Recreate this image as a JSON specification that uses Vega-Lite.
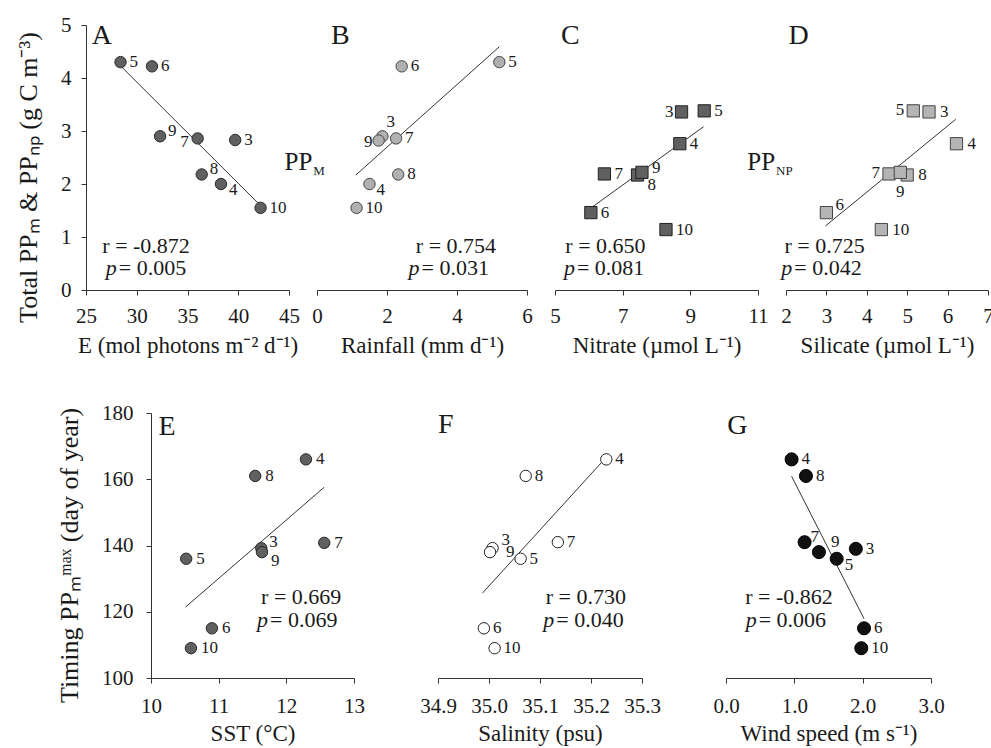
{
  "$schema": "https://vega.github.io/schema/vega-lite/v6.json",
  "background": "white",
  "padding": {"left": 15, "top": 14, "right": 5, "bottom": 2},
  "config": {
    "view": {"stroke": null},
    "font": "Liberation Serif",
    "axis": {"grid": false, "labelFont": "Liberation Serif", "labelFontSize": 21, "labelColor": "#1a1a1a", "titleFont": "Liberation Serif", "titleFontSize": 23, "titleFontWeight": "normal", "titleColor": "#1a1a1a", "domainColor": "#333333", "tickColor": "#333333", "tickSize": 5, "labelPadding": 10, "titlePadding": 8, "labelFlush": false, "labelOverlap": false},
    "text": {"font": "Liberation Serif", "color": "#1a1a1a", "fontSize": 17}
  },
  "datasets": {
    "pts": [
      {"panel": "A", "s": "3", "x": 39.7, "y": 2.83}, {"panel": "A", "s": "4", "x": 38.3, "y": 2.0}, {"panel": "A", "s": "5", "x": 28.4, "y": 4.3}, {"panel": "A", "s": "6", "x": 31.5, "y": 4.22}, {"panel": "A", "s": "7", "x": 36.0, "y": 2.86}, {"panel": "A", "s": "8", "x": 36.4, "y": 2.18}, {"panel": "A", "s": "9", "x": 32.3, "y": 2.9}, {"panel": "A", "s": "10", "x": 42.2, "y": 1.55},
      {"panel": "B", "s": "3", "x": 1.87, "y": 2.9}, {"panel": "B", "s": "4", "x": 1.5, "y": 2.0}, {"panel": "B", "s": "5", "x": 5.21, "y": 4.3}, {"panel": "B", "s": "6", "x": 2.42, "y": 4.22}, {"panel": "B", "s": "7", "x": 2.26, "y": 2.86}, {"panel": "B", "s": "8", "x": 2.32, "y": 2.18}, {"panel": "B", "s": "9", "x": 1.76, "y": 2.82}, {"panel": "B", "s": "10", "x": 1.13, "y": 1.55},
      {"panel": "C", "s": "3", "x": 8.74, "y": 3.36}, {"panel": "C", "s": "4", "x": 8.69, "y": 2.76}, {"panel": "C", "s": "5", "x": 9.41, "y": 3.38}, {"panel": "C", "s": "6", "x": 6.06, "y": 1.46}, {"panel": "C", "s": "7", "x": 6.46, "y": 2.19}, {"panel": "C", "s": "8", "x": 7.44, "y": 2.17}, {"panel": "C", "s": "9", "x": 7.57, "y": 2.22}, {"panel": "C", "s": "10", "x": 8.28, "y": 1.14},
      {"panel": "D", "s": "3", "x": 5.54, "y": 3.36}, {"panel": "D", "s": "4", "x": 6.22, "y": 2.76}, {"panel": "D", "s": "5", "x": 5.15, "y": 3.38}, {"panel": "D", "s": "6", "x": 3.0, "y": 1.46}, {"panel": "D", "s": "7", "x": 4.55, "y": 2.19}, {"panel": "D", "s": "8", "x": 5.0, "y": 2.17}, {"panel": "D", "s": "9", "x": 4.83, "y": 2.22}, {"panel": "D", "s": "10", "x": 4.36, "y": 1.14},
      {"panel": "E", "s": "3", "x": 11.63, "y": 139.2}, {"panel": "E", "s": "4", "x": 12.29, "y": 166}, {"panel": "E", "s": "5", "x": 10.52, "y": 136}, {"panel": "E", "s": "6", "x": 10.9, "y": 115}, {"panel": "E", "s": "7", "x": 12.56, "y": 140.8}, {"panel": "E", "s": "8", "x": 11.54, "y": 161}, {"panel": "E", "s": "9", "x": 11.64, "y": 138}, {"panel": "E", "s": "10", "x": 10.59, "y": 109},
      {"panel": "F", "s": "3", "x": 35.007, "y": 139.2}, {"panel": "F", "s": "4", "x": 35.23, "y": 166}, {"panel": "F", "s": "5", "x": 35.062, "y": 136}, {"panel": "F", "s": "6", "x": 34.99, "y": 115}, {"panel": "F", "s": "7", "x": 35.135, "y": 141}, {"panel": "F", "s": "8", "x": 35.072, "y": 161}, {"panel": "F", "s": "9", "x": 35.002, "y": 138}, {"panel": "F", "s": "10", "x": 35.011, "y": 109},
      {"panel": "G", "s": "3", "x": 1.9, "y": 139}, {"panel": "G", "s": "4", "x": 0.96, "y": 166}, {"panel": "G", "s": "5", "x": 1.62, "y": 136}, {"panel": "G", "s": "6", "x": 2.02, "y": 115}, {"panel": "G", "s": "7", "x": 1.15, "y": 141}, {"panel": "G", "s": "8", "x": 1.17, "y": 161}, {"panel": "G", "s": "9", "x": 1.36, "y": 138}, {"panel": "G", "s": "10", "x": 1.98, "y": 109}
    ],
    "fits": [
      {"panel": "A", "x": 28.4, "y": 4.23}, {"panel": "A", "x": 41.95, "y": 1.64},
      {"panel": "B", "x": 1.11, "y": 2.17}, {"panel": "B", "x": 5.21, "y": 4.59},
      {"panel": "C", "x": 6.11, "y": 1.57}, {"panel": "C", "x": 9.39, "y": 3.08},
      {"panel": "D", "x": 2.98, "y": 1.21}, {"panel": "D", "x": 6.2, "y": 3.22},
      {"panel": "E", "x": 10.51, "y": 121.4}, {"panel": "E", "x": 12.56, "y": 157.6},
      {"panel": "F", "x": 34.987, "y": 125.6}, {"panel": "F", "x": 35.228, "y": 166.3},
      {"panel": "G", "x": 0.96, "y": 160.9}, {"panel": "G", "x": 2.02, "y": 117.9}
    ],
    "notes": [
      {"panel": "A", "kind": "letter", "x": 25.56, "y": 4.79, "t": "A"},
      {"panel": "B", "kind": "letter", "x": 0.4, "y": 4.79, "t": "B"},
      {"panel": "C", "kind": "letter", "x": 5.18, "y": 4.79, "t": "C"},
      {"panel": "D", "kind": "letter", "x": 2.06, "y": 4.79, "t": "D"},
      {"panel": "E", "kind": "letter", "x": 10.11, "y": 175.8, "t": "E"},
      {"panel": "F", "kind": "letter", "x": 34.9, "y": 176.5, "t": "F"},
      {"panel": "G", "kind": "letter", "x": 0.02, "y": 176.2, "t": "G"},
      {"panel": "A", "kind": "big", "x": 47.3, "y": 2.42, "t": "PP"},
      {"panel": "A", "kind": "sub", "x": 47.3, "y": 2.42, "t": "M"},
      {"panel": "D", "kind": "big", "x": 1.73, "y": 2.42, "t": "PP"},
      {"panel": "D", "kind": "sub", "x": 1.73, "y": 2.42, "t": "NP"}
    ],
    "stats": [
      {"panel": "A", "kind": "r", "x": 30.92, "y": 0.83, "t": "r = -0.872"}, {"panel": "A", "kind": "p", "x": 28.03, "y": 0.41, "t": "= 0.005"},
      {"panel": "B", "kind": "r", "x": 3.97, "y": 0.83, "t": "r = 0.754"}, {"panel": "B", "kind": "p", "x": 2.93, "y": 0.41, "t": "= 0.031"},
      {"panel": "C", "kind": "r", "x": 6.49, "y": 0.83, "t": "r = 0.650"}, {"panel": "C", "kind": "p", "x": 5.59, "y": 0.41, "t": "= 0.081"},
      {"panel": "D", "kind": "r", "x": 2.955, "y": 0.83, "t": "r = 0.725"}, {"panel": "D", "kind": "p", "x": 2.157, "y": 0.41, "t": "= 0.042"},
      {"panel": "E", "kind": "r", "x": 12.22, "y": 124.4, "t": "r = 0.669"}, {"panel": "E", "kind": "p", "x": 11.73, "y": 117.6, "t": "= 0.069"},
      {"panel": "F", "kind": "r", "x": 35.19, "y": 124.4, "t": "r = 0.730"}, {"panel": "F", "kind": "p", "x": 35.128, "y": 117.6, "t": "= 0.040"},
      {"panel": "G", "kind": "r", "x": 0.922, "y": 124.4, "t": "r = -0.862"}, {"panel": "G", "kind": "p", "x": 0.449, "y": 117.6, "t": "= 0.006"}
    ]
  },
  "spacing": 45,
  "vconcat": [
    {
      "spacing": 28,
      "bounds": "flush",
      "hconcat": [
        {
          "width": 203, "height": 265,
          "data": {"name": "pts"},
          "transform": [{"filter": "datum.panel == 'A'"}],
          "encoding": {
            "x": {"field": "x", "type": "quantitative", "scale": {"domain": [25, 45], "nice": false, "zero": false}, "axis": {"values": [25, 30, 35, 40, 45], "title": "E (mol photons m⁻² d⁻¹)"}},
            "y": {"field": "y", "type": "quantitative", "scale": {"domain": [0, 5], "nice": false, "zero": false}, "axis": {"values": [0, 1, 2, 3, 4, 5], "title": "Total PPₘ & PPₙₚ (g C m⁻³)", "titleFontSize": 26, "titlePadding": 19, "labelPadding": 10, "titleY": 152}}
          },
          "layer": [
            {"data": {"name": "fits"}, "transform": [{"filter": "datum.panel == 'A'"}], "mark": {"type": "line", "color": "#333333", "strokeWidth": 1}},
            {"mark": {"type": "circle", "size": 130, "fill": "#606060", "stroke": "#2a2a2a", "strokeWidth": 1, "opacity": 1}},
            {"transform": [{"filter": "indexof(['7','9','8','4'], datum.s) < 0"}], "mark": {"type": "text", "align": "left", "dx": 9}, "encoding": {"text": {"field": "s"}}},
            {"transform": [{"filter": "indexof(['7'], datum.s) >= 0"}], "mark": {"type": "text", "align": "right", "dx": -9, "dy": 4}, "encoding": {"text": {"field": "s"}}},
            {"transform": [{"filter": "indexof(['9','8'], datum.s) >= 0"}], "mark": {"type": "text", "align": "left", "dx": 8, "dy": -5}, "encoding": {"text": {"field": "s"}}},
            {"transform": [{"filter": "indexof(['4'], datum.s) >= 0"}], "mark": {"type": "text", "align": "left", "dx": 8, "dy": 6}, "encoding": {"text": {"field": "s"}}},
            {"data": {"name": "notes"}, "transform": [{"filter": "datum.panel == 'A' && datum.kind == 'letter'"}], "mark": {"type": "text", "align": "left", "fontSize": 28}, "encoding": {"text": {"field": "t"}}},
            {"data": {"name": "notes"}, "transform": [{"filter": "datum.panel == 'A' && datum.kind == 'big'"}], "mark": {"type": "text", "align": "right", "fontSize": 25}, "encoding": {"text": {"field": "t"}}},
            {"data": {"name": "notes"}, "transform": [{"filter": "datum.panel == 'A' && datum.kind == 'sub'"}], "mark": {"type": "text", "align": "left", "fontSize": 13, "dx": 1, "dy": 9}, "encoding": {"text": {"field": "t"}}},
            {"data": {"name": "stats"}, "transform": [{"filter": "datum.panel == 'A' && datum.kind == 'r'"}], "mark": {"type": "text", "align": "center", "fontSize": 22}, "encoding": {"text": {"field": "t"}}},
            {"data": {"name": "stats"}, "transform": [{"filter": "datum.panel == 'A' && datum.kind == 'p'"}], "mark": {"type": "text", "align": "right", "fontSize": 22, "fontStyle": "italic"}, "encoding": {"text": {"value": "p"}}},
            {"data": {"name": "stats"}, "transform": [{"filter": "datum.panel == 'A' && datum.kind == 'p'"}], "mark": {"type": "text", "align": "left", "fontSize": 22, "dx": 2}, "encoding": {"text": {"field": "t"}}}
          ]
        },
        {
          "width": 210, "height": 265,
          "data": {"name": "pts"},
          "transform": [{"filter": "datum.panel == 'B'"}],
          "encoding": {
            "x": {"field": "x", "type": "quantitative", "scale": {"domain": [0, 6], "nice": false, "zero": false}, "axis": {"values": [0, 2, 4, 6], "title": "Rainfall (mm d⁻¹)"}},
            "y": {"field": "y", "type": "quantitative", "scale": {"domain": [0, 5], "nice": false, "zero": false}, "axis": null}
          },
          "layer": [
            {"data": {"name": "fits"}, "transform": [{"filter": "datum.panel == 'B'"}], "mark": {"type": "line", "color": "#333333", "strokeWidth": 1}},
            {"mark": {"type": "circle", "size": 130, "fill": "#b0b0b0", "stroke": "#444444", "strokeWidth": 1, "opacity": 1}},
            {"transform": [{"filter": "indexof(['9','3','4'], datum.s) < 0"}], "mark": {"type": "text", "align": "left", "dx": 9}, "encoding": {"text": {"field": "s"}}},
            {"transform": [{"filter": "indexof(['9'], datum.s) >= 0"}], "mark": {"type": "text", "align": "right", "dx": -6, "dy": 1}, "encoding": {"text": {"field": "s"}}},
            {"transform": [{"filter": "indexof(['3'], datum.s) >= 0"}], "mark": {"type": "text", "align": "left", "dx": 4, "dy": -14}, "encoding": {"text": {"field": "s"}}},
            {"transform": [{"filter": "indexof(['4'], datum.s) >= 0"}], "mark": {"type": "text", "align": "left", "dx": 7, "dy": 6}, "encoding": {"text": {"field": "s"}}},
            {"data": {"name": "notes"}, "transform": [{"filter": "datum.panel == 'B' && datum.kind == 'letter'"}], "mark": {"type": "text", "align": "left", "fontSize": 28}, "encoding": {"text": {"field": "t"}}},
            {"data": {"name": "stats"}, "transform": [{"filter": "datum.panel == 'B' && datum.kind == 'r'"}], "mark": {"type": "text", "align": "center", "fontSize": 22}, "encoding": {"text": {"field": "t"}}},
            {"data": {"name": "stats"}, "transform": [{"filter": "datum.panel == 'B' && datum.kind == 'p'"}], "mark": {"type": "text", "align": "right", "fontSize": 22, "fontStyle": "italic"}, "encoding": {"text": {"value": "p"}}},
            {"data": {"name": "stats"}, "transform": [{"filter": "datum.panel == 'B' && datum.kind == 'p'"}], "mark": {"type": "text", "align": "left", "fontSize": 22, "dx": 2}, "encoding": {"text": {"field": "t"}}}
          ]
        },
        {
          "width": 203, "height": 265,
          "data": {"name": "pts"},
          "transform": [{"filter": "datum.panel == 'C'"}],
          "encoding": {
            "x": {"field": "x", "type": "quantitative", "scale": {"domain": [5, 11], "nice": false, "zero": false}, "axis": {"values": [5, 7, 9, 11], "title": "Nitrate (µmol L⁻¹)"}},
            "y": {"field": "y", "type": "quantitative", "scale": {"domain": [0, 5], "nice": false, "zero": false}, "axis": null}
          },
          "layer": [
            {"data": {"name": "fits"}, "transform": [{"filter": "datum.panel == 'C'"}], "mark": {"type": "line", "color": "#333333", "strokeWidth": 1}},
            {"mark": {"type": "square", "size": 150, "fill": "#606060", "stroke": "#222222", "strokeWidth": 1, "opacity": 1}},
            {"transform": [{"filter": "indexof(['3','9','8'], datum.s) < 0"}], "mark": {"type": "text", "align": "left", "dx": 10}, "encoding": {"text": {"field": "s"}}},
            {"transform": [{"filter": "indexof(['3'], datum.s) >= 0"}], "mark": {"type": "text", "align": "right", "dx": -8}, "encoding": {"text": {"field": "s"}}},
            {"transform": [{"filter": "indexof(['9'], datum.s) >= 0"}], "mark": {"type": "text", "align": "left", "dx": 10, "dy": -4}, "encoding": {"text": {"field": "s"}}},
            {"transform": [{"filter": "indexof(['8'], datum.s) >= 0"}], "mark": {"type": "text", "align": "left", "dx": 10, "dy": 10}, "encoding": {"text": {"field": "s"}}},
            {"data": {"name": "notes"}, "transform": [{"filter": "datum.panel == 'C' && datum.kind == 'letter'"}], "mark": {"type": "text", "align": "left", "fontSize": 28}, "encoding": {"text": {"field": "t"}}},
            {"data": {"name": "stats"}, "transform": [{"filter": "datum.panel == 'C' && datum.kind == 'r'"}], "mark": {"type": "text", "align": "center", "fontSize": 22}, "encoding": {"text": {"field": "t"}}},
            {"data": {"name": "stats"}, "transform": [{"filter": "datum.panel == 'C' && datum.kind == 'p'"}], "mark": {"type": "text", "align": "right", "fontSize": 22, "fontStyle": "italic"}, "encoding": {"text": {"value": "p"}}},
            {"data": {"name": "stats"}, "transform": [{"filter": "datum.panel == 'C' && datum.kind == 'p'"}], "mark": {"type": "text", "align": "left", "fontSize": 22, "dx": 2}, "encoding": {"text": {"field": "t"}}}
          ]
        },
        {
          "width": 202, "height": 265,
          "data": {"name": "pts"},
          "transform": [{"filter": "datum.panel == 'D'"}],
          "encoding": {
            "x": {"field": "x", "type": "quantitative", "scale": {"domain": [2, 7], "nice": false, "zero": false}, "axis": {"values": [2, 3, 4, 5, 6, 7], "title": "Silicate (µmol L⁻¹)"}},
            "y": {"field": "y", "type": "quantitative", "scale": {"domain": [0, 5], "nice": false, "zero": false}, "axis": null}
          },
          "layer": [
            {"data": {"name": "fits"}, "transform": [{"filter": "datum.panel == 'D'"}], "mark": {"type": "line", "color": "#333333", "strokeWidth": 1}},
            {"mark": {"type": "square", "size": 150, "fill": "#b4b4b4", "stroke": "#444444", "strokeWidth": 1, "opacity": 1}},
            {"transform": [{"filter": "indexof(['5','7','9','6'], datum.s) < 0"}], "mark": {"type": "text", "align": "left", "dx": 11}, "encoding": {"text": {"field": "s"}}},
            {"transform": [{"filter": "indexof(['5','7'], datum.s) >= 0"}], "mark": {"type": "text", "align": "right", "dx": -9, "dy": -1}, "encoding": {"text": {"field": "s"}}},
            {"transform": [{"filter": "indexof(['9'], datum.s) >= 0"}], "mark": {"type": "text", "align": "center", "dy": 20}, "encoding": {"text": {"field": "s"}}},
            {"transform": [{"filter": "indexof(['6'], datum.s) >= 0"}], "mark": {"type": "text", "align": "left", "dx": 9, "dy": -8}, "encoding": {"text": {"field": "s"}}},
            {"data": {"name": "notes"}, "transform": [{"filter": "datum.panel == 'D' && datum.kind == 'letter'"}], "mark": {"type": "text", "align": "left", "fontSize": 28}, "encoding": {"text": {"field": "t"}}},
            {"data": {"name": "notes"}, "transform": [{"filter": "datum.panel == 'D' && datum.kind == 'big'"}], "mark": {"type": "text", "align": "right", "fontSize": 25}, "encoding": {"text": {"field": "t"}}},
            {"data": {"name": "notes"}, "transform": [{"filter": "datum.panel == 'D' && datum.kind == 'sub'"}], "mark": {"type": "text", "align": "left", "fontSize": 13, "dx": 1, "dy": 9}, "encoding": {"text": {"field": "t"}}},
            {"data": {"name": "stats"}, "transform": [{"filter": "datum.panel == 'D' && datum.kind == 'r'"}], "mark": {"type": "text", "align": "center", "fontSize": 22}, "encoding": {"text": {"field": "t"}}},
            {"data": {"name": "stats"}, "transform": [{"filter": "datum.panel == 'D' && datum.kind == 'p'"}], "mark": {"type": "text", "align": "right", "fontSize": 22, "fontStyle": "italic"}, "encoding": {"text": {"value": "p"}}},
            {"data": {"name": "stats"}, "transform": [{"filter": "datum.panel == 'D' && datum.kind == 'p'"}], "mark": {"type": "text", "align": "left", "fontSize": 22, "dx": 2}, "encoding": {"text": {"field": "t"}}}
          ]
        }
      ]
    },
    {
      "spacing": 0,
      "bounds": "flush",
      "hconcat": [
        {"width": 65, "height": 265, "data": {"values": [{"v": 1}]}, "mark": {"type": "point", "opacity": 0}, "encoding": {}},
        {
          "spacing": 84,
          "bounds": "flush",
          "hconcat": [
            {
              "width": 203, "height": 265,
              "data": {"name": "pts"},
              "transform": [{"filter": "datum.panel == 'E'"}],
              "encoding": {
                "x": {"field": "x", "type": "quantitative", "scale": {"domain": [10, 13], "nice": false, "zero": false}, "axis": {"values": [10, 11, 12, 13], "title": "SST (°C)", "labelPadding": 12, "titlePadding": 6}},
                "y": {"field": "y", "type": "quantitative", "scale": {"domain": [100, 180], "nice": false, "zero": false}, "axis": {"values": [100, 120, 140, 160, 180], "title": "Timing PPₘᵐᵃˣ (day of year)", "titleFontSize": 26, "titlePadding": 19, "labelPadding": 13, "titleY": 142}}
              },
              "layer": [
                {"data": {"name": "fits"}, "transform": [{"filter": "datum.panel == 'E'"}], "mark": {"type": "line", "color": "#333333", "strokeWidth": 1}},
                {"mark": {"type": "circle", "size": 130, "fill": "#606060", "stroke": "#2a2a2a", "strokeWidth": 1, "opacity": 1}},
                {"transform": [{"filter": "indexof(['3','9'], datum.s) < 0"}], "mark": {"type": "text", "align": "left", "dx": 10}, "encoding": {"text": {"field": "s"}}},
                {"transform": [{"filter": "indexof(['3'], datum.s) >= 0"}], "mark": {"type": "text", "align": "left", "dx": 8, "dy": -6}, "encoding": {"text": {"field": "s"}}},
                {"transform": [{"filter": "indexof(['9'], datum.s) >= 0"}], "mark": {"type": "text", "align": "left", "dx": 9, "dy": 9}, "encoding": {"text": {"field": "s"}}},
                {"data": {"name": "notes"}, "transform": [{"filter": "datum.panel == 'E' && datum.kind == 'letter'"}], "mark": {"type": "text", "align": "left", "fontSize": 28}, "encoding": {"text": {"field": "t"}}},
                {"data": {"name": "stats"}, "transform": [{"filter": "datum.panel == 'E' && datum.kind == 'r'"}], "mark": {"type": "text", "align": "center", "fontSize": 22}, "encoding": {"text": {"field": "t"}}},
                {"data": {"name": "stats"}, "transform": [{"filter": "datum.panel == 'E' && datum.kind == 'p'"}], "mark": {"type": "text", "align": "right", "fontSize": 22, "fontStyle": "italic"}, "encoding": {"text": {"value": "p"}}},
                {"data": {"name": "stats"}, "transform": [{"filter": "datum.panel == 'E' && datum.kind == 'p'"}], "mark": {"type": "text", "align": "left", "fontSize": 22, "dx": 2}, "encoding": {"text": {"field": "t"}}}
              ]
            },
            {
              "width": 204, "height": 265,
              "data": {"name": "pts"},
              "transform": [{"filter": "datum.panel == 'F'"}],
              "encoding": {
                "x": {"field": "x", "type": "quantitative", "scale": {"domain": [34.9, 35.3], "nice": false, "zero": false}, "axis": {"values": [34.9, 35.0, 35.1, 35.2, 35.3], "format": ".1f", "title": "Salinity (psu)", "labelPadding": 12, "titlePadding": 6}},
                "y": {"field": "y", "type": "quantitative", "scale": {"domain": [100, 180], "nice": false, "zero": false}, "axis": null}
              },
              "layer": [
                {"data": {"name": "fits"}, "transform": [{"filter": "datum.panel == 'F'"}], "mark": {"type": "line", "color": "#333333", "strokeWidth": 1}},
                {"mark": {"type": "circle", "size": 130, "fill": "#ffffff", "stroke": "#222222", "strokeWidth": 1, "opacity": 1}},
                {"transform": [{"filter": "indexof(['3','9'], datum.s) < 0"}], "mark": {"type": "text", "align": "left", "dx": 9}, "encoding": {"text": {"field": "s"}}},
                {"transform": [{"filter": "indexof(['3'], datum.s) >= 0"}], "mark": {"type": "text", "align": "left", "dx": 9, "dy": -8}, "encoding": {"text": {"field": "s"}}},
                {"transform": [{"filter": "indexof(['9'], datum.s) >= 0"}], "mark": {"type": "text", "align": "left", "dx": 16, "dy": 0}, "encoding": {"text": {"field": "s"}}},
                {"data": {"name": "notes"}, "transform": [{"filter": "datum.panel == 'F' && datum.kind == 'letter'"}], "mark": {"type": "text", "align": "left", "fontSize": 28}, "encoding": {"text": {"field": "t"}}},
                {"data": {"name": "stats"}, "transform": [{"filter": "datum.panel == 'F' && datum.kind == 'r'"}], "mark": {"type": "text", "align": "center", "fontSize": 22}, "encoding": {"text": {"field": "t"}}},
                {"data": {"name": "stats"}, "transform": [{"filter": "datum.panel == 'F' && datum.kind == 'p'"}], "mark": {"type": "text", "align": "right", "fontSize": 22, "fontStyle": "italic"}, "encoding": {"text": {"value": "p"}}},
                {"data": {"name": "stats"}, "transform": [{"filter": "datum.panel == 'F' && datum.kind == 'p'"}], "mark": {"type": "text", "align": "left", "fontSize": 22, "dx": 2}, "encoding": {"text": {"field": "t"}}}
              ]
            },
            {
              "width": 205, "height": 265,
              "data": {"name": "pts"},
              "transform": [{"filter": "datum.panel == 'G'"}],
              "encoding": {
                "x": {"field": "x", "type": "quantitative", "scale": {"domain": [0, 3], "nice": false, "zero": false}, "axis": {"values": [0, 1, 2, 3], "format": ".1f", "title": "Wind speed (m s⁻¹)", "labelPadding": 12, "titlePadding": 6}},
                "y": {"field": "y", "type": "quantitative", "scale": {"domain": [100, 180], "nice": false, "zero": false}, "axis": null}
              },
              "layer": [
                {"data": {"name": "fits"}, "transform": [{"filter": "datum.panel == 'G'"}], "mark": {"type": "line", "color": "#333333", "strokeWidth": 1}},
                {"mark": {"type": "circle", "size": 170, "fill": "#111111", "stroke": "#000000", "strokeWidth": 1, "opacity": 1}},
                {"transform": [{"filter": "indexof(['7','9','5'], datum.s) < 0"}], "mark": {"type": "text", "align": "left", "dx": 10}, "encoding": {"text": {"field": "s"}}},
                {"transform": [{"filter": "indexof(['7'], datum.s) >= 0"}], "mark": {"type": "text", "align": "left", "dx": 6, "dy": -5}, "encoding": {"text": {"field": "s"}}},
                {"transform": [{"filter": "indexof(['9'], datum.s) >= 0"}], "mark": {"type": "text", "align": "left", "dx": 12, "dy": -10}, "encoding": {"text": {"field": "s"}}},
                {"transform": [{"filter": "indexof(['5'], datum.s) >= 0"}], "mark": {"type": "text", "align": "left", "dx": 8, "dy": 6}, "encoding": {"text": {"field": "s"}}},
                {"data": {"name": "notes"}, "transform": [{"filter": "datum.panel == 'G' && datum.kind == 'letter'"}], "mark": {"type": "text", "align": "left", "fontSize": 28}, "encoding": {"text": {"field": "t"}}},
                {"data": {"name": "stats"}, "transform": [{"filter": "datum.panel == 'G' && datum.kind == 'r'"}], "mark": {"type": "text", "align": "center", "fontSize": 22}, "encoding": {"text": {"field": "t"}}},
                {"data": {"name": "stats"}, "transform": [{"filter": "datum.panel == 'G' && datum.kind == 'p'"}], "mark": {"type": "text", "align": "right", "fontSize": 22, "fontStyle": "italic"}, "encoding": {"text": {"value": "p"}}},
                {"data": {"name": "stats"}, "transform": [{"filter": "datum.panel == 'G' && datum.kind == 'p'"}], "mark": {"type": "text", "align": "left", "fontSize": 22, "dx": 2}, "encoding": {"text": {"field": "t"}}}
              ]
            }
          ]
        }
      ]
    }
  ]
}
